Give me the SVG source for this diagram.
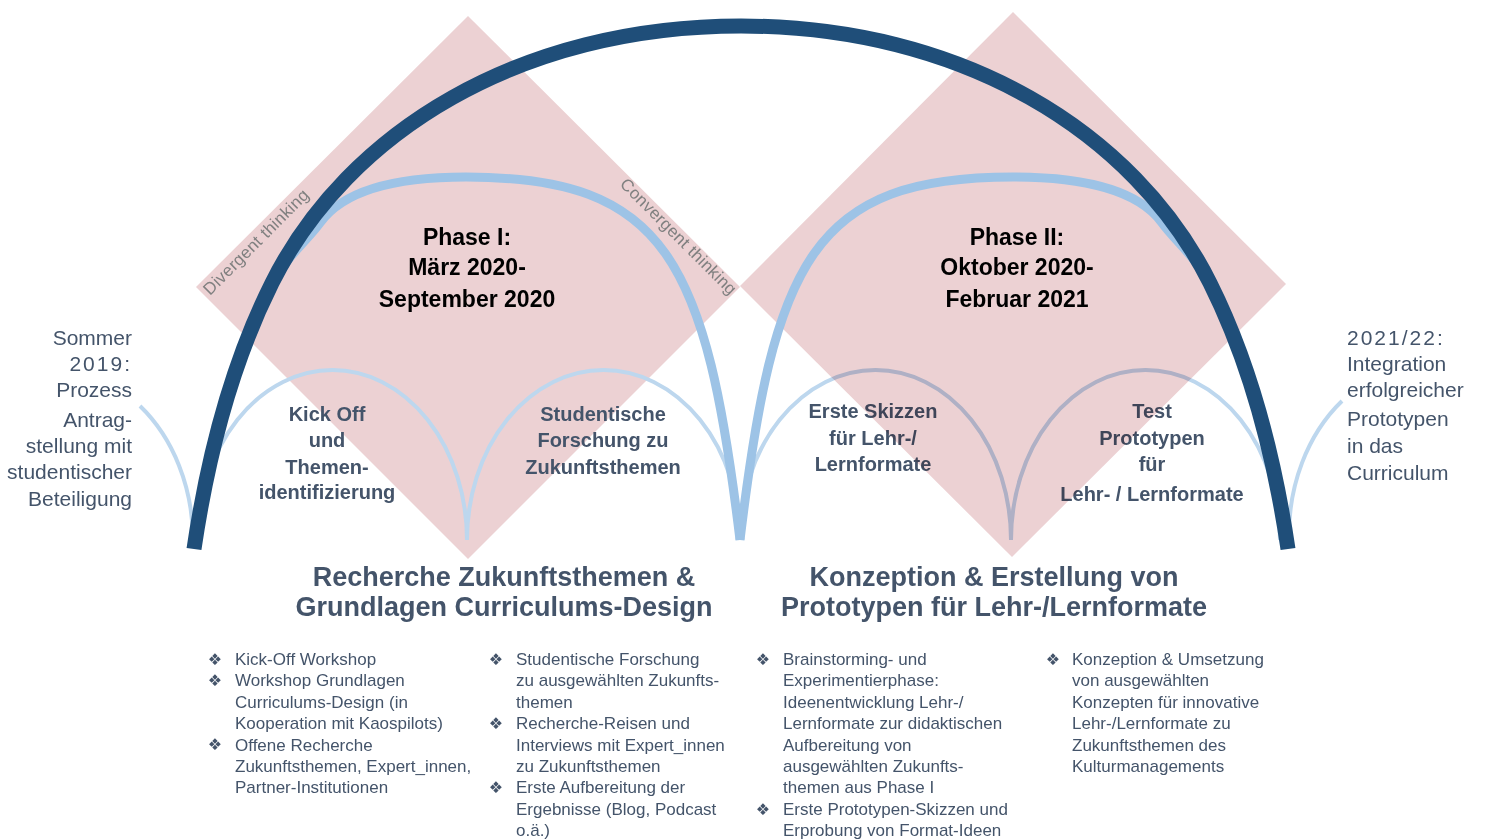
<svg xmlns="http://www.w3.org/2000/svg" width="1486" height="839" viewBox="0 0 1486 839">
<style>
.bg{fill:#ffffff}
.dia{fill:#ecd1d3}
.small{fill:none;stroke:#bdd7ee;stroke-width:4}
.mid{fill:none;stroke:#9dc3e6;stroke-width:9}
.big{fill:none;stroke:#1f4e79;stroke-width:15}
.title{font-family:"Liberation Sans",Arial,sans-serif;font-weight:bold;font-size:23px;fill:#000000;text-anchor:middle}
.node{font-family:"Liberation Sans",Arial,sans-serif;font-weight:bold;font-size:20px;fill:#44546a;text-anchor:middle}
.head{font-family:"Liberation Sans",Arial,sans-serif;font-weight:bold;font-size:27px;fill:#44546a;text-anchor:middle}
.side{font-family:"Liberation Sans",Arial,sans-serif;font-size:21px;fill:#44546a}
.think{font-family:"Liberation Sans",Arial,sans-serif;font-size:17px;fill:#808080;letter-spacing:0.3px}
.list{font-family:"Liberation Sans",Arial,sans-serif;font-size:17px;fill:#44546a}
.bul{font-family:"DejaVu Sans",sans-serif;font-size:16px;fill:#44546a;text-anchor:middle}
</style>
<rect class="bg" x="0" y="0" width="1486" height="839"/>

<g id="phase1-diamond">
<polygon class="dia" points="468,16 740,287 468,559 196,287"/>
</g>

<g id="connectors-small">
<path class="small" d="M140,406 A137,170 0 0 1 193,540"/>
<path class="small" d="M198,540 A134.5,170 0 0 1 467,540"/>
<path class="small" d="M467,540 A136.5,170 0 0 1 740,540"/>
<path class="small" d="M740,540 A135.5,170 0 0 1 1011,540"/>
<path class="small" d="M1011,540 A134.5,170 0 0 1 1280,540"/>
<path class="small" d="M1289,540 A137,170 0 0 1 1342,401"/>
</g>

<g id="node-kickoff">
<text class="node" x="327" y="421">Kick Off</text>
<text class="node" x="327" y="447">und</text>
<text class="node" x="327" y="474">Themen-</text>
<text class="node" x="327" y="499">identifizierung</text>
</g>
<g id="node-forschung">
<text class="node" x="603" y="421">Studentische</text>
<text class="node" x="603" y="447">Forschung zu</text>
<text class="node" x="603" y="474">Zukunftsthemen</text>
</g>
<g id="node-skizzen">
<text class="node" x="873" y="418">Erste Skizzen</text>
<text class="node" x="873" y="445">für Lehr-/</text>
<text class="node" x="873" y="471">Lernformate</text>
</g>
<g id="node-test">
<text class="node" x="1152" y="418">Test</text>
<text class="node" x="1152" y="445">Prototypen</text>
<text class="node" x="1152" y="471">für</text>
<text class="node" x="1152" y="501">Lehr- / Lernformate</text>
</g>

<g id="phase2-diamond">
<polygon class="dia" points="1013,12 1286,284 1012,557 740,286" style="mix-blend-mode:multiply"/>
</g>

<g id="connectors-phases">
<path class="mid" d="M194,548 C207.6,457 230.9,365.2 272,283 C283.2,260.7 308.4,239.3 320,223 C343.2,190.4 396,177 466,177 C666,177 706.4,260 740,540"/>
<path class="mid" d="M740,540 C773.6,260 813,177 1013,177 C1083,177 1138.8,190.4 1162,223 C1173.6,239.3 1198.8,260.7 1210,283 C1251.1,365.2 1274.4,457 1288,548"/>
<path class="big" d="M194,549 C207.6,457 230.9,365.2 272,283 C348,131 521,26 741,26 C961,26 1134,131 1210,283 C1251.1,365.2 1274.4,457 1288,549"/>
</g>

<g id="phase1-title">
<text class="title" x="467" y="245">Phase I:</text>
<text class="title" x="467" y="275">März 2020-</text>
<text class="title" x="467" y="307">September 2020</text>
</g>
<g id="phase2-title">
<text class="title" x="1017" y="245">Phase II:</text>
<text class="title" x="1017" y="275">Oktober 2020-</text>
<text class="title" x="1017" y="307">Februar 2021</text>
</g>

<g id="thinking-labels">
<text class="think" transform="translate(210,296) rotate(-45)">Divergent thinking</text>
<text class="think" transform="translate(619,185) rotate(45)">Convergent thinking</text>
</g>

<g id="start-label">
<text class="side" text-anchor="end" x="132" y="345">Sommer</text>
<text class="side" text-anchor="end" x="132" y="371" letter-spacing="2">2019:</text>
<text class="side" text-anchor="end" x="132" y="397">Prozess</text>
<text class="side" text-anchor="end" x="132" y="427">Antrag-</text>
<text class="side" text-anchor="end" x="132" y="453">stellung mit</text>
<text class="side" text-anchor="end" x="132" y="479">studentischer</text>
<text class="side" text-anchor="end" x="132" y="506">Beteiligung</text>
</g>
<g id="end-label">
<text class="side" x="1347" y="345" letter-spacing="2">2021/22:</text>
<text class="side" x="1347" y="371">Integration</text>
<text class="side" x="1347" y="397">erfolgreicher</text>
<text class="side" x="1347" y="426">Prototypen</text>
<text class="side" x="1347" y="453">in das</text>
<text class="side" x="1347" y="480">Curriculum</text>
</g>

<g id="heading-phase1">
<text class="head" x="504" y="586">Recherche Zukunftsthemen &amp;</text>
<text class="head" x="504" y="616">Grundlagen Curriculums-Design</text>
</g>
<g id="heading-phase2">
<text class="head" x="994" y="586">Konzeption &amp; Erstellung von</text>
<text class="head" x="994" y="616">Prototypen für Lehr-/Lernformate</text>
</g>

<g id="list-1">
<text class="bul" x="215" y="665">❖</text>
<text class="bul" x="215" y="686">❖</text>
<text class="bul" x="215" y="750">❖</text>
<text class="list" x="235" y="665">Kick-Off Workshop</text>
<text class="list" x="235" y="686.4">Workshop Grundlagen</text>
<text class="list" x="235" y="707.8">Curriculums-Design (in</text>
<text class="list" x="235" y="729.2">Kooperation mit Kaospilots)</text>
<text class="list" x="235" y="750.6">Offene Recherche</text>
<text class="list" x="235" y="772">Zukunftsthemen, Expert_innen,</text>
<text class="list" x="235" y="793.4">Partner-Institutionen</text>
</g>
<g id="list-2">
<text class="bul" x="496" y="665">❖</text>
<text class="bul" x="496" y="729">❖</text>
<text class="bul" x="496" y="793">❖</text>
<text class="list" x="516" y="665">Studentische Forschung</text>
<text class="list" x="516" y="686.4">zu ausgewählten Zukunfts-</text>
<text class="list" x="516" y="707.8">themen</text>
<text class="list" x="516" y="729.2">Recherche-Reisen und</text>
<text class="list" x="516" y="750.6">Interviews mit Expert_innen</text>
<text class="list" x="516" y="772">zu Zukunftsthemen</text>
<text class="list" x="516" y="793.4">Erste Aufbereitung der</text>
<text class="list" x="516" y="814.8">Ergebnisse (Blog, Podcast</text>
<text class="list" x="516" y="836.2">o.ä.)</text>
</g>
<g id="list-3">
<text class="bul" x="763" y="665">❖</text>
<text class="bul" x="763" y="815">❖</text>
<text class="list" x="783" y="665">Brainstorming- und</text>
<text class="list" x="783" y="686.4">Experimentierphase:</text>
<text class="list" x="783" y="707.8">Ideenentwicklung Lehr-/</text>
<text class="list" x="783" y="729.2">Lernformate zur didaktischen</text>
<text class="list" x="783" y="750.6">Aufbereitung von</text>
<text class="list" x="783" y="772">ausgewählten Zukunfts-</text>
<text class="list" x="783" y="793.4">themen aus Phase I</text>
<text class="list" x="783" y="814.8">Erste Prototypen-Skizzen und</text>
<text class="list" x="783" y="836.2">Erprobung von Format-Ideen</text>
</g>
<g id="list-4">
<text class="bul" x="1053" y="665">❖</text>
<text class="list" x="1072" y="665">Konzeption &amp; Umsetzung</text>
<text class="list" x="1072" y="686.4">von ausgewählten</text>
<text class="list" x="1072" y="707.8">Konzepten für innovative</text>
<text class="list" x="1072" y="729.2">Lehr-/Lernformate zu</text>
<text class="list" x="1072" y="750.6">Zukunftsthemen des</text>
<text class="list" x="1072" y="772">Kulturmanagements</text>
</g>
</svg>
